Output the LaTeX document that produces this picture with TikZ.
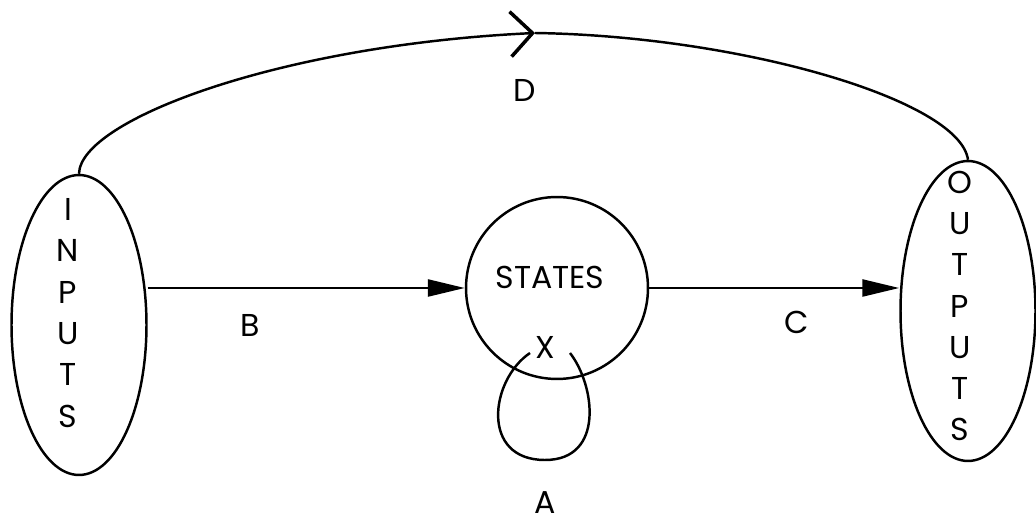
\documentclass[tikz,border=0pt]{standalone}
\usepackage{fontspec}
\setmainfont{Poppins}
\usetikzlibrary{arrows.meta, shapes.geometric}

\begin{document}
\begin{tikzpicture}[
  x=0.02cm, y=-0.02cm,
  line width=1.4pt,
  blob/.style={draw, ellipse, minimum width=2.7cm, minimum height=6cm, inner sep=0pt},
  word/.style={font=\fontsize{18}{23.5}\selectfont, align=center, inner sep=0pt},
  >={Triangle[length=0.74cm, width=0.34cm]}
]
\useasboundingbox (0,0) rectangle (1036,523);
% the three blocks
\node[blob] (in) at (79,325) {};
\node[word] (intext) at (68,313) {I\\N\\P\\U\\T\\S};
\node[blob] (out) at (968,311) {};
\node[word] (outtext) at (960,306) {O\\U\\T\\P\\U\\T\\S};
\node[draw, circle, minimum size=3.64cm, inner sep=0pt] (st) at (557,288) {};
\node[word] (sttext) at (550,277) {STATES};
\node[word] (x) at (545,347) {X};
% links
\draw[->] (in.east |- st.west) -- (st.west);
\draw[->] (st.east) -- (out.west |- st.east);
\coordinate (dtop) at (535,33);
\draw[-{Straight Barb[length=0.44cm, width=0.9cm, line width=2pt]}]
  (in.north) .. controls (80,120) and (280,45) .. (dtop);
\draw (dtop) .. controls (740,36) and (960,100) .. (out.north);
% self loop on X
\coordinate (la) at (530,353);
\coordinate (lb) at (570,353);
\draw (la) .. controls (490,380) and (480,460) .. (545,460)
           .. controls (605,460) and (595,385) .. (lb);
% labels
\node[word] (lblb) at (250,325) {B};
\node[word] (lblc) at (797,322) {C};
\node[word] (lbld) at (525,90) {D};
\node[word] (lbla) at (545,503) {A};
\end{tikzpicture}
\end{document}
